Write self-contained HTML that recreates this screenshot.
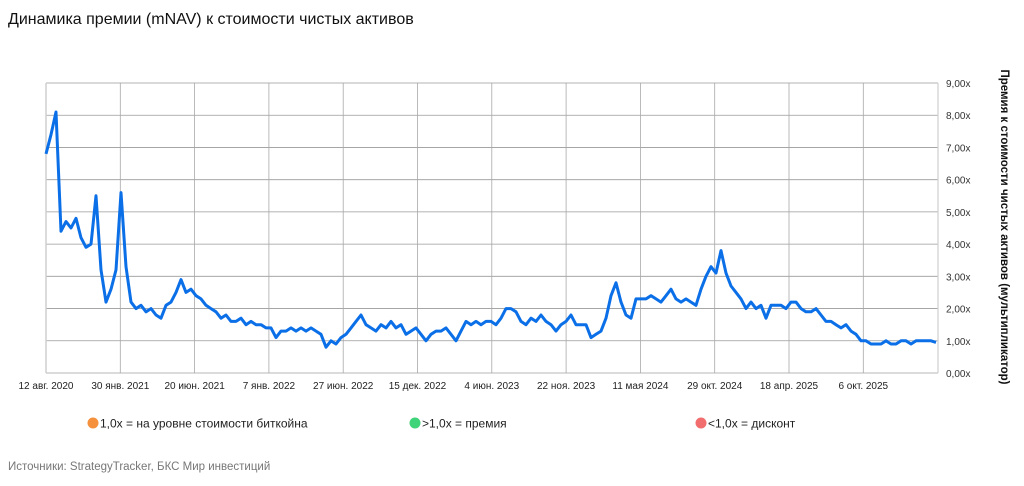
<!DOCTYPE html>
<html><head><meta charset="utf-8"><style>
body{margin:0;width:1024px;height:481px;background:#fff;overflow:hidden;font-family:"Liberation Sans","Noto Sans CJK SC",sans-serif;}
svg text{font-family:"Liberation Sans","Noto Sans CJK SC",sans-serif;}
</style></head><body>
<svg id="chart" width="1024" height="481">
<text x="8" y="24" font-size="16" fill="#111">Динамика премии (mNAV) к стоимости чистых активов</text>
<g id="grid"></g><g id="xlabels"></g><g id="ylabels"></g>
<path id="line" fill="none" stroke="#0b6fe8" stroke-width="3" stroke-linejoin="round"/>
<text transform="translate(1001,227) rotate(90)" text-anchor="middle" font-size="11.5" font-weight="bold" fill="#111">Премия к стоимости чистых активов (мультипликатор)</text>
<g><circle cx="93" cy="423" r="5.5" fill="#f5913d"/><text x="100" y="427.5" font-size="12" fill="#222">1,0x = на уровне стоимости биткойна</text></g>
<g><circle cx="415" cy="423" r="5.5" fill="#3fd37a"/><text x="422" y="427.5" font-size="12" fill="#222">&gt;1,0x = премия</text></g>
<g><circle cx="701" cy="423" r="5.5" fill="#f26d6d"/><text x="708" y="427.5" font-size="12" fill="#222">&lt;1,0x = дисконт</text></g>
<text x="8" y="470" font-size="11.5" fill="#777">Источники: StrategyTracker, БКС Мир инвестиций</text>
</svg>
<script>
const xTickLabels=["12 авг. 2020","30 янв. 2021","20 июн. 2021","7 янв. 2022","27 июн. 2022","15 дек. 2022","4 июн. 2023","22 ноя. 2023","11 мая 2024","29 окт. 2024","18 апр. 2025","6 окт. 2025"];
const yTicks=[0,1,2,3,4,5,6,7,8,9];
const mnavValues=[6.8,7.4,8.1,4.4,4.7,4.5,4.8,4.2,3.9,4.0,5.5,3.2,2.2,2.6,3.2,5.6,3.3,2.2,2.0,2.1,1.9,2.0,1.8,1.7,2.1,2.2,2.5,2.9,2.5,2.6,2.4,2.3,2.1,2.0,1.9,1.7,1.8,1.6,1.6,1.7,1.5,1.6,1.5,1.5,1.4,1.4,1.1,1.3,1.3,1.4,1.3,1.4,1.3,1.4,1.3,1.2,0.8,1.0,0.9,1.1,1.2,1.4,1.6,1.8,1.5,1.4,1.3,1.5,1.4,1.6,1.4,1.5,1.2,1.3,1.4,1.2,1.0,1.2,1.3,1.3,1.4,1.2,1.0,1.3,1.6,1.5,1.6,1.5,1.6,1.6,1.5,1.7,2.0,2.0,1.9,1.6,1.5,1.7,1.6,1.8,1.6,1.5,1.3,1.5,1.6,1.8,1.5,1.5,1.5,1.1,1.2,1.3,1.7,2.4,2.8,2.2,1.8,1.7,2.3,2.3,2.3,2.4,2.3,2.2,2.4,2.6,2.3,2.2,2.3,2.2,2.1,2.6,3.0,3.3,3.1,3.8,3.1,2.7,2.5,2.3,2.0,2.2,2.0,2.1,1.7,2.1,2.1,2.1,2.0,2.2,2.2,2.0,1.9,1.9,2.0,1.8,1.6,1.6,1.5,1.4,1.5,1.3,1.2,1.0,1.0,0.9,0.9,0.9,1.0,0.9,0.9,1.0,1.0,0.9,1.0,1.0,1.0,1.0,0.95];
const L=46,R=938,T=83,B=373,NS="http://www.w3.org/2000/svg";
const yS=v=>B-(v/9)*(B-T);
const xTickS=i=>L+i*74.3;
const xS=i=>L+i*(936-L)/(mnavValues.length-1);
function mk(tag,attrs,parent){const e=document.createElementNS(NS,tag);for(const k in attrs)e.setAttribute(k,attrs[k]);parent.appendChild(e);return e;}
const grid=document.getElementById('grid'),xl=document.getElementById('xlabels'),yl=document.getElementById('ylabels');
yTicks.forEach(v=>{
 const ln=mk('line',{x1:L,x2:R,y1:yS(v),y2:yS(v),stroke:v===0?'#cfcfcf':'#9a9a9a','stroke-width':v===0?1.5:0.8},grid);
 
 
 const t=mk('text',{x:R+8,y:yS(v)+4,'font-size':10,fill:'#333'},yl);
 t.textContent=v.toFixed(2).replace('.',',')+'x';
 
 
});
xTickLabels.forEach((s,i)=>{
 const x=xTickS(i);
 const ln=mk('line',{x1:x,x2:x,y1:T,y2:B,stroke:i===0?'#cfcfcf':'#a8a8a8','stroke-width':i===0?1.5:0.8},grid);
 
 
 const t=mk('text',{x:x,y:389,'font-size':10,fill:'#222','text-anchor':'middle'},xl);
 t.textContent=s;
 
 
});
const rl=mk('line',{x1:R,x2:R,y1:T,y2:B,stroke:'#cfcfcf','stroke-width':1.2},grid);


document.getElementById('line').setAttribute('d',mnavValues.map((v,i)=>(i?'L':'M')+xS(i).toFixed(1)+','+yS(v).toFixed(1)).join(''));
</script>
</body></html>
